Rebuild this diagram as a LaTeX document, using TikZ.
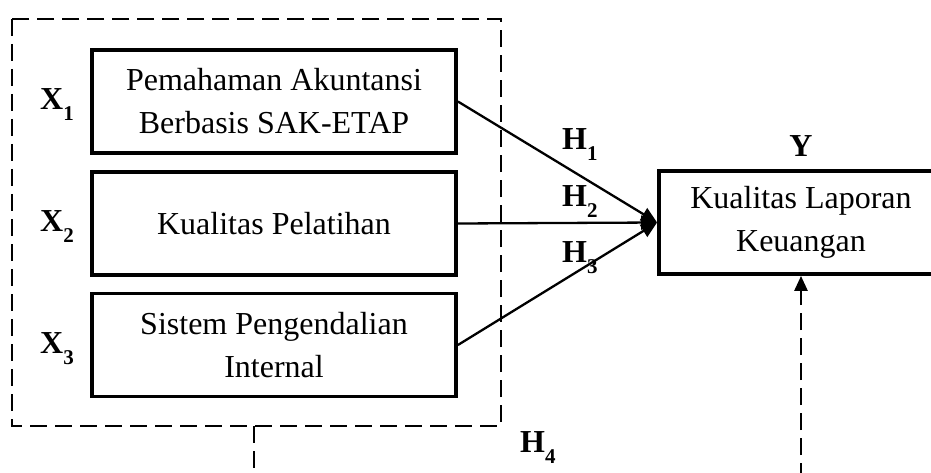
\documentclass[tikz,border=0pt]{standalone}
\usepackage{fontspec}
\setmainfont{Liberation Serif}
\usetikzlibrary{arrows.meta}
\tikzset{
  varbox/.style={draw, line width=3.8pt, minimum width=364pt, minimum height=103pt,
    align=center, inner sep=0pt, font=\fontsize{32}{43}\selectfont},
  lbl/.style={font=\fontsize{32}{32}\selectfont\bfseries, inner sep=0pt, anchor=base west},
  link/.style={line width=2.3pt, -{Triangle[length=16pt,width=14pt]}},
  dashline/.style={line width=2.6pt, dash pattern=on 17pt off 8pt},
}
\newcommand{\sublbl}[2]{#1\raisebox{-11pt}{\fontsize{21}{21}\selectfont\bfseries #2}}
\begin{document}
\begin{tikzpicture}[x=1pt, y=-1pt]
  \useasboundingbox (0,0) rectangle (931,473);
  \clip (0,0) rectangle (931,473);

  % independent variables
  \node[varbox] (b1) at (274,101.5) {Pemahaman Akuntansi\\Berbasis SAK-ETAP};
  \node[varbox] (b2) at (274,223.5) {Kualitas Pelatihan};
  \node[varbox] (b3) at (274,345) {Sistem Pengendalian\\Internal};

  % dependent variable
  \node[varbox, minimum width=284pt] (y) at (801,222.5) {Kualitas Laporan\\Keuangan};

  % grouping frame
  \draw[dashline] (12,19) rectangle (501,426);
  \coordinate (grp) at (254,426);
  \coordinate (grpend) at (254,480);
  \coordinate (yend) at (801,480);

  % variable labels
  \node[lbl] (x1) at (40,110) {\sublbl{X}{1}};
  \node[lbl] (x2) at (40,231) {\sublbl{X}{2}};
  \node[lbl] (x3) at (40,353) {\sublbl{X}{3}};
  \node[lbl, anchor=base] (ylbl) at (801,157) {Y};

  % hypotheses paths
  \draw[link] (b1.east) -- (y.west);
  \draw[link] (b2.east) -- (y.west);
  \draw[link] (b3.east) -- (y.west);
  \node[lbl] (h1) at (562,150) {\sublbl{H}{1}};
  \node[lbl] (h2) at (562,207) {\sublbl{H}{2}};
  \node[lbl] (h3) at (562,262) {\sublbl{H}{3}};
  \node[lbl] (h4) at (520,452) {\sublbl{H}{4}};

  % simultaneous effect
  \draw[dashline] (grp) -- (grpend);
  \draw[dashline, -{Triangle[length=15pt,width=13pt]}] (yend) -- (y.south);
\end{tikzpicture}
\end{document}
